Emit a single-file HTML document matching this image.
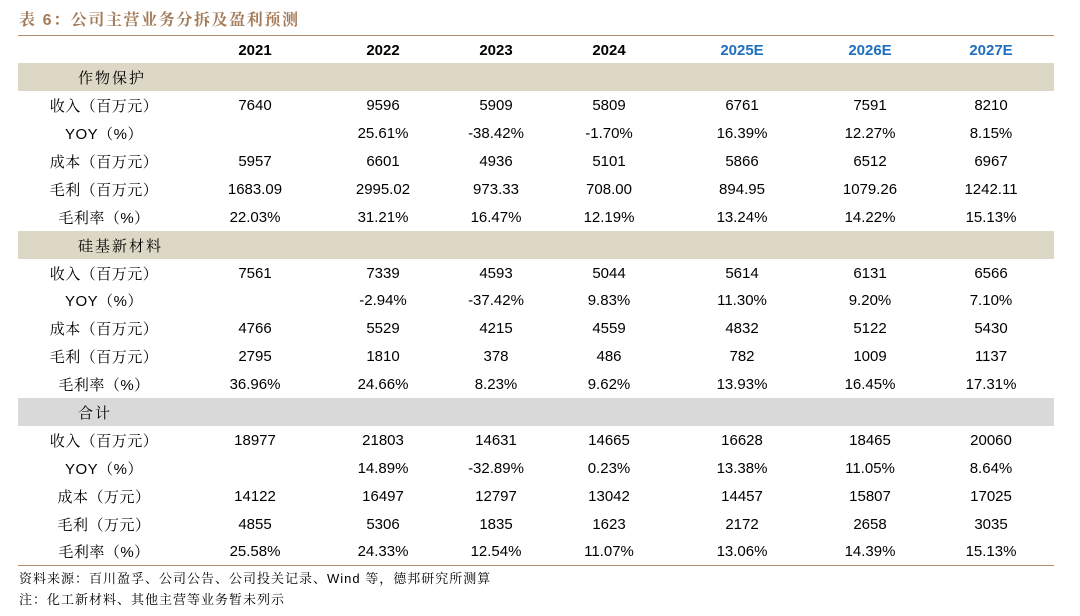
<!DOCTYPE html>
<html><head><meta charset="utf-8"><style>
body{margin:0;width:1080px;height:616px;background:#fff;font-family:"Liberation Sans","Noto Sans CJK SC",sans-serif;position:relative;overflow:hidden}
.t{position:absolute;left:19px;top:7px;font-size:16px;color:#a47c5a;letter-spacing:1.6px;font-weight:bold;font-family:"Liberation Sans","Noto Serif CJK SC",serif}
table{position:absolute;left:18px;top:35px;width:1036px;table-layout:fixed;border-collapse:collapse;border-top:1px solid #b48f72;border-bottom:1px solid #b48f72;font-size:15px;color:#000}
td{box-sizing:border-box;height:27.9px;padding:1px 0 0 0;text-align:center;white-space:nowrap}
td:first-child{font-family:"Liberation Sans","Noto Serif CJK SC",serif;letter-spacing:0.5px}
tr.h td{font-weight:bold}
tr.h td.e{color:#1f6fbf}
tr.band td{background:#ddd8c5}
tr.band.g td{background:#d9d9d9}
tr.band td:first-child{text-align:left;padding-left:60px;letter-spacing:2px}
.f{position:absolute;left:19px;font-size:13px;letter-spacing:1px;font-family:"Liberation Sans","Noto Serif CJK SC",serif}
</style></head><body>
<div class="t">表 6：公司主营业务分拆及盈利预测</div>
<table>
<colgroup><col style="width:172px"><col style="width:130px"><col style="width:126px"><col style="width:100px"><col style="width:126px"><col style="width:140px"><col style="width:116px"><col style="width:126px"></colgroup>
<tr class="h"><td></td><td>2021</td><td>2022</td><td>2023</td><td>2024</td><td class="e">2025E</td><td class="e">2026E</td><td class="e">2027E</td></tr>
<tr class="band"><td>作物保护</td><td></td><td></td><td></td><td></td><td></td><td></td><td></td></tr>
<tr><td>收入（百万元）</td><td>7640</td><td>9596</td><td>5909</td><td>5809</td><td>6761</td><td>7591</td><td>8210</td></tr>
<tr><td>YOY（%）</td><td></td><td>25.61%</td><td>-38.42%</td><td>-1.70%</td><td>16.39%</td><td>12.27%</td><td>8.15%</td></tr>
<tr><td>成本（百万元）</td><td>5957</td><td>6601</td><td>4936</td><td>5101</td><td>5866</td><td>6512</td><td>6967</td></tr>
<tr><td>毛利（百万元）</td><td>1683.09</td><td>2995.02</td><td>973.33</td><td>708.00</td><td>894.95</td><td>1079.26</td><td>1242.11</td></tr>
<tr><td>毛利率（%）</td><td>22.03%</td><td>31.21%</td><td>16.47%</td><td>12.19%</td><td>13.24%</td><td>14.22%</td><td>15.13%</td></tr>
<tr class="band"><td>硅基新材料</td><td></td><td></td><td></td><td></td><td></td><td></td><td></td></tr>
<tr><td>收入（百万元）</td><td>7561</td><td>7339</td><td>4593</td><td>5044</td><td>5614</td><td>6131</td><td>6566</td></tr>
<tr><td>YOY（%）</td><td></td><td>-2.94%</td><td>-37.42%</td><td>9.83%</td><td>11.30%</td><td>9.20%</td><td>7.10%</td></tr>
<tr><td>成本（百万元）</td><td>4766</td><td>5529</td><td>4215</td><td>4559</td><td>4832</td><td>5122</td><td>5430</td></tr>
<tr><td>毛利（百万元）</td><td>2795</td><td>1810</td><td>378</td><td>486</td><td>782</td><td>1009</td><td>1137</td></tr>
<tr><td>毛利率（%）</td><td>36.96%</td><td>24.66%</td><td>8.23%</td><td>9.62%</td><td>13.93%</td><td>16.45%</td><td>17.31%</td></tr>
<tr class="band g"><td>合计</td><td></td><td></td><td></td><td></td><td></td><td></td><td></td></tr>
<tr><td>收入（百万元）</td><td>18977</td><td>21803</td><td>14631</td><td>14665</td><td>16628</td><td>18465</td><td>20060</td></tr>
<tr><td>YOY（%）</td><td></td><td>14.89%</td><td>-32.89%</td><td>0.23%</td><td>13.38%</td><td>11.05%</td><td>8.64%</td></tr>
<tr><td>成本（万元）</td><td>14122</td><td>16497</td><td>12797</td><td>13042</td><td>14457</td><td>15807</td><td>17025</td></tr>
<tr><td>毛利（万元）</td><td>4855</td><td>5306</td><td>1835</td><td>1623</td><td>2172</td><td>2658</td><td>3035</td></tr>
<tr><td>毛利率（%）</td><td>25.58%</td><td>24.33%</td><td>12.54%</td><td>11.07%</td><td>13.06%</td><td>14.39%</td><td>15.13%</td></tr>
</table>
<div class="f" style="top:568px">资料来源：百川盈孚、公司公告、公司投关记录、Wind 等，德邦研究所测算</div>
<div class="f" style="top:589px">注：化工新材料、其他主营等业务暂未列示</div>
</body></html>
